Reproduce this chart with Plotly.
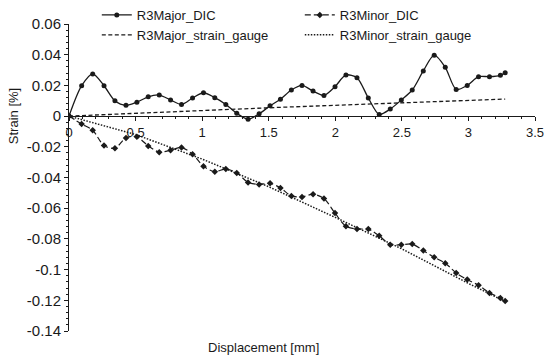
import plotly.graph_objects as go

# Displacement [mm] of the DIC samples
disp = [0, 0.095, 0.178, 0.263, 0.345, 0.428, 0.51, 0.595, 0.678, 0.763, 0.845,
        0.928, 1.01, 1.095, 1.178, 1.26, 1.345, 1.428, 1.51, 1.588, 1.67, 1.75,
        1.833, 1.915, 1.998, 2.08, 2.163, 2.248, 2.33, 2.413, 2.496, 2.578, 2.661,
        2.743, 2.826, 2.908, 2.991, 3.076, 3.158, 3.24, 3.276]

major_dic = [0, 0.0198, 0.0275, 0.0198, 0.010, 0.007, 0.0091, 0.0126, 0.0137, 0.0105,
             0.0076, 0.0118, 0.0152, 0.012, 0.0076, 0.0018, -0.002, 0.0015, 0.0067,
             0.011, 0.017, 0.020, 0.0163, 0.0135, 0.0192, 0.0268, 0.025, 0.0118,
             0.0011, 0.0046, 0.0105, 0.017, 0.0294, 0.0397, 0.0318, 0.0174, 0.020,
             0.0257, 0.0257, 0.0266, 0.0283]

minor_dic = [0, -0.0052, -0.0092, -0.0192, -0.0209, -0.0142, -0.0135, -0.0194, -0.0235,
             -0.0222, -0.0205, -0.0248, -0.0327, -0.0362, -0.0344, -0.037, -0.0432,
             -0.0445, -0.0438, -0.0468, -0.052, -0.0527, -0.0509, -0.0537, -0.0632,
             -0.0718, -0.0736, -0.0736, -0.078, -0.0838, -0.0838, -0.0834, -0.0876,
             -0.092, -0.0958, -0.1022, -0.1065, -0.1102, -0.1152, -0.1185, -0.1205]

# Strain gauge readings
major_sg_x = [0, 1.58, 3.276]
major_sg_y = [0, 0.0057, 0.0111]
minor_sg_x = [0, 0.5, 1.0, 1.5, 2.0, 2.5, 3.0, 3.27]
minor_sg_y = [0, -0.012, -0.028, -0.046, -0.066, -0.0865, -0.109, -0.1205]

# Axis ticks
x_ticks = [0, 0.5, 1, 1.5, 2, 2.5, 3, 3.5]
x_ticklabels = ["0", "0.5", "1", "1.5", "2", "2.5", "3", "3.5"]
y_ticks = [0.06, 0.04, 0.02, 0, -0.02, -0.04, -0.06, -0.08, -0.1, -0.12, -0.14]
y_ticklabels = ["0.06", "0.04", "0.02", "0", "-0.02", "-0.04", "-0.06", "-0.08",
                "-0.1", "-0.12", "-0.14"]

FONT = "Liberation Sans, Arial, sans-serif"
BLACK = "#1a1a1a"

fig = go.Figure()
fig.add_trace(go.Scatter(
    x=disp, y=major_dic, name="R3Major_DIC", mode="lines+markers",
    line=dict(color=BLACK, width=1.3, shape="spline", smoothing=0.8),
    marker=dict(symbol="circle", size=5, color=BLACK)))
fig.add_trace(go.Scatter(
    x=disp, y=minor_dic, name="R3Minor_DIC", mode="lines+markers",
    line=dict(color=BLACK, width=1.2, shape="spline", smoothing=0.8, dash="6px,3px"),
    marker=dict(symbol="diamond", size=5, color=BLACK)))
fig.add_trace(go.Scatter(
    x=major_sg_x, y=major_sg_y, name="R3Major_strain_gauge", mode="lines",
    line=dict(color=BLACK, width=1.3, dash="4px,2.5px")))
fig.add_trace(go.Scatter(
    x=minor_sg_x, y=minor_sg_y, name="R3Minor_strain_gauge", mode="lines",
    line=dict(color=BLACK, width=1.5, dash="1.5px,1.5px")))

fig.update_layout(
    width=550, height=364,
    margin=dict(l=69, r=15, t=24, b=33, autoexpand=False),
    paper_bgcolor="white", plot_bgcolor="white",
    font=dict(family=FONT, color=BLACK),
    showlegend=True,
    legend=dict(orientation="h", xref="container", yref="container",
                x=0.176, y=1.0, xanchor="left", yanchor="top",
                entrywidth=158, entrywidthmode="pixels",
                font=dict(size=13, family=FONT, color=BLACK),
                bgcolor="rgba(0,0,0,0)", tracegroupgap=0),
    xaxis=dict(range=[0, 3.5], anchor="free", position=0.7,
               tickvals=x_ticks, ticktext=x_ticklabels,
               tickfont=dict(size=13, family=FONT, color=BLACK),
               showline=True, linecolor=BLACK, linewidth=1,
               ticks="outside", ticklen=4, tickcolor=BLACK,
               minor=dict(dtick=0.1, ticks="outside", ticklen=2, tickcolor=BLACK),
               showgrid=False, zeroline=False),
    yaxis=dict(range=[-0.14, 0.06], anchor="x",
               tickvals=y_ticks, ticktext=y_ticklabels,
               tickfont=dict(size=15, family=FONT, color=BLACK),
               showline=True, linecolor=BLACK, linewidth=1,
               ticks="outside", ticklen=4, tickcolor=BLACK,
               minor=dict(dtick=0.004, tick0=0, ticks="outside", ticklen=2, tickcolor=BLACK),
               showgrid=False, zeroline=False),
    xaxis2=dict(range=[0, 3.5], overlaying="x", anchor="free", position=0.7,
                tickvals=x_ticks, showticklabels=False,
                ticks="inside", ticklen=4, tickcolor=BLACK,
                minor=dict(dtick=0.1, ticks="inside", ticklen=2, tickcolor=BLACK),
                showgrid=False, zeroline=False, showline=False),
    yaxis2=dict(range=[-0.14, 0.06], overlaying="y", anchor="x",
                tickvals=y_ticks, showticklabels=False,
                ticks="inside", ticklen=4, tickcolor=BLACK,
                minor=dict(dtick=0.004, tick0=0, ticks="inside", ticklen=2, tickcolor=BLACK),
                showgrid=False, zeroline=False, showline=False),
)

fig.add_annotation(text="Strain [%]", xref="paper", yref="paper",
                   x=-0.12, y=0.7, textangle=-90, showarrow=False,
                   font=dict(size=13, family=FONT, color=BLACK),
                   xanchor="center", yanchor="middle")
fig.add_annotation(text="Displacement [mm]", xref="paper", yref="paper",
                   x=(263 - 69) / 466, y=-0.055, showarrow=False,
                   font=dict(size=13, family=FONT, color=BLACK),
                   xanchor="center", yanchor="middle")

fig.write_html("out.html",
               config={"displayModeBar": False},
               post_script="document.body.style.margin='0';document.body.style.padding='0';")
